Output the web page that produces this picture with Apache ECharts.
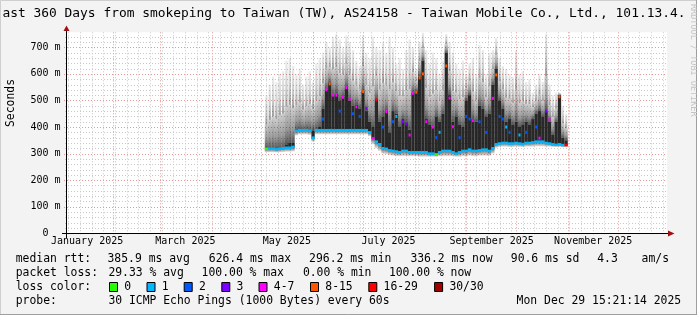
<!DOCTYPE html>
<html>
<head>
<meta charset="utf-8">
<script src="https://cdn.jsdelivr.net/npm/echarts@6/dist/echarts.min.js"></script>
<style>
html,body{margin:0;padding:0;background:#f3f3f3;overflow:hidden}
#chart{width:697px;height:315px}
</style>
</head>
<body>
<div id="chart"></div>
<script>
// ---------- axes (x in days since 2025-01-01 00:00, y in ms) ----------
const X_MIN = 3.2;
const X_MAX = 363.6;
const Y_MAX = 756.5;
const COL_DAYS = 2;

const monthLines = [31, 59, 90, 120, 151, 181, 212, 243, 273, 304, 334];
const weekLines = [4, 11, 18, 25, 32, 39, 46, 53, 60, 67, 74, 81, 88, 95, 102, 109, 116, 123, 130, 137, 144, 151, 158, 165, 172, 179, 186, 193, 200, 207, 214, 221, 228, 235, 242, 249, 256, 263, 270, 277, 284, 291, 298, 305, 312, 319, 326, 340, 347, 354, 361];
const xLabelDays = [15.3, 74.3, 135.3, 196.3, 258.3, 319.3];
const xLabelText = ['January 2025', 'March 2025', 'May 2025', 'July 2025', 'September 2025', 'November 2025'];
const yMajor = [100, 200, 300, 400, 500, 600, 700];
const yMinor = [20, 40, 60, 80, 120, 140, 160, 180, 220, 240, 260, 280, 320, 340, 360, 380, 420, 440, 460, 480, 520, 540, 560, 580, 620, 640, 660, 680, 720, 740];

// ---------- data (2-day columns, centre day) ----------
const days = [123,125,127,129,131,133,135,137,139,141,143,145,147,149,151,153,155,157,159,161,163,165,167,169,171,173,175,177,179,181,183,185,187,189,191,193,195,197,199,201,203,205,207,209,211,213,215,217,219,221,223,225,227,229,231,233,235,237,239,241,243,245,247,249,251,253,255,257,259,261,263,265,267,269,271,273,275,277,279,281,283,285,287,289,291,293,295,297,299,301,303];
const medianMs = [318,318,318,316,318,320,322,322,325,
  385,388,388,388,386,360,388,388,
  388,388,388,388,388,388,388,388,388,388,388,388,388,388,380,
  358,345,335,320,318,312,310,308,305,310,310,305,305,305,
  305,305,305,300,300,297,305,310,310,310,305,300,305,310,310,315,310,310,312,315,315,
  310,320,335,338,340,340,338,338,340,338,336,340,340,342,345,345,345,340,338,335,333,335,332,332];
const coreMs = [318,318,318,316,318,320,335,340,340,
  385,388,388,388,386,385,388,400,
  470,540,565,520,525,500,515,550,500,480,485,470,535,460,420,
  400,505,420,440,460,380,460,450,400,430,415,390,530,535,
  590,650,430,410,400,440,420,450,680,520,420,440,410,400,500,520,430,420,480,470,440,
  450,560,620,500,470,420,430,410,420,400,410,420,410,430,450,460,440,460,420,370,420,520,360,350];
const topMs = [520,560,590,570,600,610,650,660,630,
  600,620,560,590,610,570,640,660,
  680,720,700,740,750,730,700,745,720,690,650,630,745,680,660,
  740,700,690,720,680,740,700,640,660,620,690,730,700,620,
  720,755,690,640,680,660,600,650,750,720,680,640,620,650,600,640,660,600,710,690,600,
  680,690,735,660,630,620,600,590,690,600,610,570,580,530,560,600,570,750,560,520,530,530,480,450];
const lowMs = [305,305,305,304,305,306,307,307,308,
  368,372,372,372,370,345,372,372,
  372,372,372,372,372,372,372,372,372,372,372,372,372,372,365,
  335,320,310,300,298,295,292,290,290,290,290,290,290,290,
  288,288,288,288,288,288,290,290,290,290,290,288,288,290,290,292,290,290,292,292,292,
  292,300,322,325,326,326,325,325,326,325,325,326,326,326,327,327,327,326,326,325,325,325,324,324];
const medianLoss = [0,1,1,1,1,1,1,1,1,
  1,1,1,1,1,1,1,1,
  1,1,1,1,1,1,1,1,1,1,1,1,1,1,1,
  4,1,1,1,1,1,1,1,1,1,1,1,1,1,
  1,1,1,1,1,0,1,1,1,1,1,1,1,1,1,1,1,1,1,1,1,
  1,1,1,1,1,1,1,1,1,1,1,1,1,1,1,1,1,1,1,1,1,1,1,6];
const dotMs = [null,null,null,null,null,null,null,null,null,
  null,null,null,null,null,null,null,null,
  430,540,562,520,520,460,512,548,505,450,476,440,533,470,null,
  null,502,null,400,458,null,420,440,null,420,411,370,527,531,
  585,600,420,null,400,360,380,null,630,509,401,null,360,null,440,430,424,null,420,null,380,
  null,508,596,440,430,400,380,null,null,370,null,380,null,null,400,358,null,460,430,null,null,514,null,null];
const dotLoss = [null,null,null,null,null,null,null,null,null,
  null,null,null,null,null,null,null,null,
  2,4,5,4,4,2,4,4,4,2,4,2,5,3,null,
  null,6,null,2,4,null,2,1,null,3,3,4,4,5,
  5,5,4,null,4,2,1,null,5,4,4,null,2,null,2,2,4,null,2,null,2,
  null,4,5,2,2,1,2,null,null,1,null,2,null,null,2,4,null,3,4,null,null,5,null,null];

// ---------- legend ----------
const lossColors = ['#26ff00', '#00b8ff', '#0059ff', '#7e00ff', '#ff00ff', '#ff5500', '#ff0000', '#a00000'];
const lossLabels = ['0', '1', '2', '3', '4-7', '8-15', '16-29', '30/30'];
const titleText = 'ast 360 Days from smokeping to Taiwan (TW), AS24158 - Taiwan Mobile Co., Ltd., 101.13.4.';
const row1 = [['median rtt:', 15.7], ['385.9 ms avg', 107.5], ['626.4 ms max', 208.8], ['296.2 ms min', 309.1], ['336.2 ms now', 410.4], ['90.6 ms sd', 510.8], ['4.3', 597.2], ['am/s', 641.6]];
const row2 = [['packet loss:', 15.7], ['29.33 % avg', 108.4], ['100.00 % max', 201.6], ['0.00 % min', 302.9], ['100.00 % now', 388.9]];
const lossBoxX = [109, 146.5, 183.7, 221.3, 258.5, 310, 368.3, 434.1];
const row4 = [['probe:', 15.7], ['30 ICMP Echo Pings (1000 Bytes) every 60s', 108.4], ['Mon Dec 29 15:21:14 2025', 516.6]];

const MONO = 'DejaVu Sans Mono';
const chart = echarts.init(document.getElementById('chart'), null, {renderer: 'canvas'});

const smokeData = days.map((d, i) => [d, lowMs[i], medianMs[i], coreMs[i], topMs[i]]);
const medData = days.map((d, i) => [d, medianMs[i], medianLoss[i]]);
const dotData = [];
days.forEach((d, i) => { if (dotMs[i] != null) dotData.push([d, dotMs[i], dotLoss[i]]); });

function grad(stops) {
  return new echarts.graphic.LinearGradient(0, 0, 0, 1, stops.map(s => ({offset: s[0], color: 'rgba(0,0,0,' + s[1] + ')'})));
}

function renderSmoke(params, api) {
  const x = api.value(0);
  const w = api.size([COL_DAYS, 0])[0];
  const cx = api.coord([x, 0])[0];
  const xl = cx - w / 2;
  const yLo = api.coord([x, api.value(1)])[1];
  const yMd = api.coord([x, api.value(2)])[1];
  const yCr = api.coord([x, api.value(3)])[1];
  const yTp = api.coord([x, api.value(4)])[1];
  const yMid = yCr - (yCr - yTp) * 0.45;
  return {type: 'group', children: [
    {type: 'rect', shape: {x: cx - w * 0.34, y: yTp, width: w * 0.68, height: Math.max(0, yMid - yTp)},
      style: {fill: grad([[0, 0.07], [0.6, 0.2], [1, 0.38]])}},
    {type: 'rect', shape: {x: xl, y: yMid, width: w, height: Math.max(0, yCr - yMid)},
      style: {fill: grad([[0, 0.2], [0.6, 0.4], [1, 0.66]])}},
    {type: 'rect', shape: {x: xl, y: yCr, width: w, height: Math.max(0, yMd - yCr)}, style: {fill: 'rgba(0,0,0,0.84)'}},
    {type: 'rect', shape: {x: xl, y: yMd, width: w, height: Math.max(0, yLo - yMd)}, style: {fill: grad([[0, 0.62], [1, 0.1]])}}
  ]};
}
function renderMedian(params, api) {
  const x = api.value(0);
  const w = api.size([COL_DAYS, 0])[0];
  const p = api.coord([x, api.value(1)]);
  return {type: 'rect', shape: {x: p[0] - w / 2, y: p[1] - 1.25, width: w, height: 2.5}, style: {fill: lossColors[api.value(2)]}};
}
function renderDot(params, api) {
  const p = api.coord([api.value(0), api.value(1)]);
  return {type: 'rect', shape: {x: p[0] - 1, y: p[1] - 1.5, width: 2, height: 3}, style: {fill: lossColors[api.value(2)]}};
}
function vLine(color, ext) {
  return function (params, api) {
    const x = Math.round(api.coord([api.value(0), 0])[0]) + 0.5;
    const yb = api.coord([X_MIN, 0])[1];
    const yt = api.coord([X_MIN, Y_MAX])[1];
    return {type: 'line', shape: {x1: x, y1: yt, x2: x, y2: yb + ext}, style: {stroke: color, lineWidth: 1, lineDash: [1, 2]}};
  };
}
function hLine(color, ext) {
  return function (params, api) {
    const y = Math.round(api.coord([X_MIN, api.value(1)])[1]) + 0.5;
    const xl = api.coord([X_MIN, 0])[0];
    const xr = api.coord([X_MAX, 0])[0];
    return {type: 'line', shape: {x1: xl - ext, y1: y, x2: xr, y2: y}, style: {stroke: color, lineWidth: 1, lineDash: [1, 2]}};
  };
}

const graphics = [];
graphics.push({type: 'rect', shape: {x: 0.5, y: 0.5, width: 696, height: 314}, style: {fill: null, stroke: '#cfcfcf', lineWidth: 1}, z: 0});
graphics.push({type: 'line', shape: {x1: 0, y1: 314.5, x2: 697, y2: 314.5}, style: {stroke: '#9e9e9e', lineWidth: 1}});
graphics.push({type: 'line', shape: {x1: 696.5, y1: 0, x2: 696.5, y2: 315}, style: {stroke: '#9e9e9e', lineWidth: 1}});
graphics.push({type: 'text', x: 2.5, y: 14, style: {text: titleText, font: '12.9px "' + MONO + '"', fill: '#000', textVerticalAlign: 'middle'}});
graphics.push({type: 'text', x: 693.5, y: 4, rotation: -Math.PI / 2, style: {text: 'RRDTOOL / TOBI OETIKER', font: '8.5px "' + MONO + '"', fill: '#c4c4c4', textVerticalAlign: 'middle'}});
graphics.push({type: 'text', x: 10.8, y: 103, rotation: Math.PI / 2, style: {text: 'Seconds', font: '11.4px "' + MONO + '"', fill: '#000', textAlign: 'center', textVerticalAlign: 'middle'}});
graphics.push({type: 'line', shape: {x1: 62, y1: 233.5, x2: 670, y2: 233.5}, style: {stroke: '#000', lineWidth: 1}, z: 10});
graphics.push({type: 'line', shape: {x1: 66.5, y1: 238, x2: 66.5, y2: 30}, style: {stroke: '#000', lineWidth: 1}, z: 10});
graphics.push({type: 'polygon', shape: {points: [[668, 230.5], [668, 236.5], [674.5, 233.5]]}, style: {fill: '#a01010'}, z: 11});
graphics.push({type: 'polygon', shape: {points: [[63.5, 31], [69.5, 31], [66.5, 25.5]]}, style: {fill: '#a01010'}, z: 11});
const legendFont = '11.4px "' + MONO + '"';
const rowY = [258.8, 273, 287.2, 301.4];
function addRow(items, y) {
  items.forEach(([t, x]) => graphics.push({type: 'text', x: x, y: y, style: {text: t, font: legendFont, fill: '#000', textVerticalAlign: 'middle'}}));
}
addRow(row1, rowY[0]);
addRow(row2, rowY[1]);
addRow([['loss color:', 15.7]], rowY[2]);
lossColors.forEach((c, i) => {
  graphics.push({type: 'rect', shape: {x: lossBoxX[i] + 0.5, y: 282.5, width: 8, height: 9}, style: {fill: c, stroke: '#000', lineWidth: 1}});
  graphics.push({type: 'text', x: lossBoxX[i] + 15.3, y: rowY[2], style: {text: lossLabels[i], font: legendFont, fill: '#000', textVerticalAlign: 'middle'}});
});
addRow(row4, rowY[3]);

const option = {
  animation: false,
  backgroundColor: '#f3f3f3',
  grid: {left: 67, top: 32.3, width: 600, height: 201, backgroundColor: '#ffffff', show: true, borderWidth: 0},
  xAxis: {
    type: 'value', min: X_MIN, max: X_MAX,
    axisLine: {show: false}, axisTick: {show: false}, splitLine: {show: false},
    axisLabel: {
      customValues: xLabelDays,
      formatter: function (v) {
        let best = -1, bd = 1e9;
        xLabelDays.forEach((d, i) => { const dd = Math.abs(d - v); if (dd < bd) { bd = dd; best = i; } });
        return bd < 0.5 ? xLabelText[best] : '';
      },
      fontFamily: MONO, fontSize: 10, color: '#000', margin: 3.5
    }
  },
  yAxis: {
    type: 'value', min: 0, max: Y_MAX, interval: 100,
    axisLine: {show: false}, axisTick: {show: false}, splitLine: {show: false},
    axisLabel: {
      formatter: function (v) { if (v % 100 !== 0) return ''; return v === 0 ? '0  ' : v + ' m'; },
      fontFamily: MONO, fontSize: 10, color: '#000', margin: 6.5
    }
  },
  series: [
    {type: 'custom', silent: true, z: 1, data: weekLines.map(v => [v, 0]), renderItem: vLine('#c8c8c8', 2)},
    {type: 'custom', silent: true, z: 1, data: yMinor.map(v => [X_MIN, v]), renderItem: hLine('#c8c8c8', 2)},
    {type: 'custom', silent: true, z: 2, data: monthLines.map(v => [v, 0]), renderItem: vLine('#e49a9a', 3)},
    {type: 'custom', silent: true, z: 2, data: yMajor.map(v => [X_MIN, v]), renderItem: hLine('#e49a9a', 3)},
    {type: 'custom', silent: true, z: 3, data: smokeData, renderItem: renderSmoke},
    {type: 'custom', silent: true, z: 4, data: medData, renderItem: renderMedian},
    {type: 'custom', silent: true, z: 5, data: dotData, renderItem: renderDot}
  ],
  graphic: graphics
};
chart.setOption(option);
</script>
</body>
</html>
